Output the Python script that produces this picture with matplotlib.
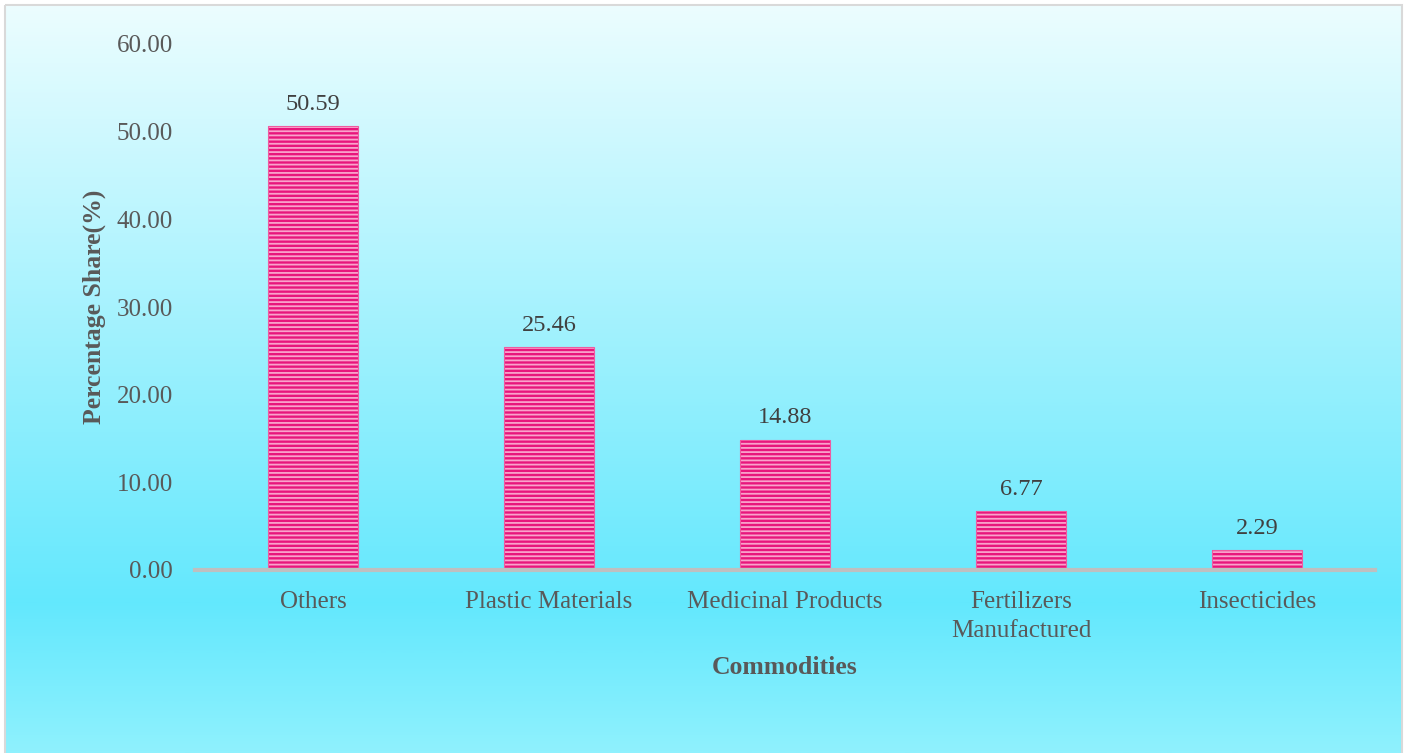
import numpy as np
import matplotlib
matplotlib.use("Agg")
import matplotlib.pyplot as plt
from matplotlib.colors import LinearSegmentedColormap
from matplotlib.patches import Rectangle

categories = ["Others", "Plastic Materials", "Medicinal Products",
              "Fertilizers\nManufactured", "Insecticides"]
shares = [50.59, 25.46, 14.88, 6.77, 2.29]
y_ticks = [0, 10, 20, 30, 40, 50, 60]

W, H, DPI = 1408, 753, 100
plt.rcParams["font.family"] = ["Liberation Serif", "DejaVu Serif"]
plt.rcParams["hatch.linewidth"] = 1.3

fig = plt.figure(figsize=(W / DPI, H / DPI), dpi=DPI)
fig.patch.set_facecolor("white")

# vertical background gradient inside the framed chart area
bg = fig.add_axes([0, 0, 1, 1], zorder=-2)
bg.set_xlim(0, W)
bg.set_ylim(H, 0)
bg.axis("off")
grad_cmap = LinearSegmentedColormap.from_list(
    "bg", [(0.0, "#ecfdff"), (0.8, "#63e8fd"), (1.0, "#8ff1fe")])
grad = np.linspace(0, 1, 512).reshape(-1, 1)
bg.imshow(grad, cmap=grad_cmap, aspect="auto",
          extent=(5, 1402, H, 5), interpolation="bilinear")
bg.add_patch(Rectangle((5, 5), 1397, H, fill=False,
                       edgecolor="#d9d9d9", linewidth=1.5))

left, right = 195 / W, 1375 / W
bottom, top = 1 - 570 / H, 1 - 44 / H
ax = fig.add_axes([left, bottom, right - left, top - bottom])
ax.patch.set_alpha(0)

x = np.arange(len(categories))
# saturated magenta body with pale horizontal stripes on top
ax.bar(x, shares, width=0.38, color="#e8167c", edgecolor="#f9a3cb",
       linewidth=0, hatch="----", zorder=2)
ax.bar(x, shares, width=0.38, facecolor="none", edgecolor="#ef5aa0",
       linewidth=0.8, zorder=2.1)

for xi, v in zip(x, shares):
    ax.annotate(f"{v:.2f}", (xi, v), xytext=(0, 8), textcoords="offset points",
                ha="center", va="bottom", fontsize=17.5, color="#404040")

ax.set_xlim(-0.5, len(categories) - 0.5)
ax.set_ylim(0, 60)
ax.set_yticks(y_ticks)
ax.set_yticklabels([f"{t:.2f}" for t in y_ticks])
ax.set_xticks(x)
ax.set_xticklabels(categories, linespacing=1.4)

ax.tick_params(axis="y", length=0, pad=16, labelsize=18, labelcolor="#595959")
ax.tick_params(axis="x", length=0, pad=15, labelsize=18, labelcolor="#595959")

for s in ["top", "right", "left"]:
    ax.spines[s].set_visible(False)
ax.spines["bottom"].set_color("#bfbfbf")
ax.spines["bottom"].set_linewidth(3)
ax.spines["bottom"].set_zorder(3)

ax.set_ylabel("Percentage Share(%)", fontsize=18.5, fontweight="bold",
              color="#595959")
ax.yaxis.set_label_coords((106 - 195) / 1180, 0.5)
ax.set_xlabel("Commodities", fontsize=18.5, fontweight="bold", color="#595959",
              va="center")
ax.xaxis.set_label_coords(0.5, (570 - 667) / 526)

fig.savefig("out.png", dpi=DPI)
